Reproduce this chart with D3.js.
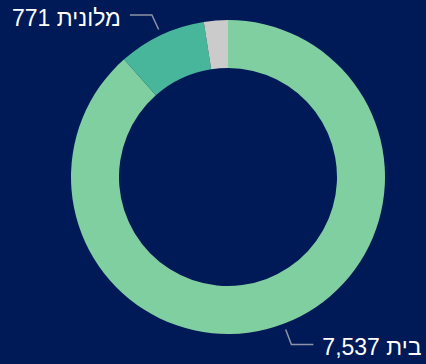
<!DOCTYPE html>
<html>
<head>
<meta charset="utf-8">
<script src="https://cdn.jsdelivr.net/npm/d3@7/dist/d3.min.js"></script>
<style>
  html, body { margin: 0; padding: 0; background: #001a57; }
  svg { display: block; }
  text { font-family: "Liberation Sans", Arial, sans-serif; }
</style>
</head>
<body>
<svg id="chart" width="426" height="364"></svg>
<script>
// Accommodation types and their counts
const categories = ["בית", "מלונית", "אחר"];
const values = [7537, 771, 210];
const colors = ["#7fcfa1", "#48b69b", "#cbcbcb"];
const labelled = [true, true, false];

const W = 426, H = 364;
const cx = 228, cy = 177, outerR = 157, innerR = 109;

const svg = d3.select("#chart");
svg.append("rect").attr("width", W).attr("height", H).attr("fill", "#001a57");

const data = categories.map((c, i) => ({ name: c, value: values[i], color: colors[i], label: labelled[i] }));

const pie = d3.pie().sort(null).value(d => d.value);
const arc = d3.arc().innerRadius(innerR).outerRadius(outerR);
const arcs = pie(data);

const g = svg.append("g").attr("transform", `translate(${cx},${cy})`);

g.selectAll("path.slice")
  .data(arcs)
  .join("path")
  .attr("class", "slice")
  .attr("d", arc)
  .attr("fill", d => d.data.color);

// Leader lines and labels
const startArc = d3.arc().innerRadius(outerR + 6).outerRadius(outerR + 6);
const elbowArc = d3.arc().innerRadius(outerR + 22).outerRadius(outerR + 22);
const fmt = d3.format(",");

arcs.filter(d => d.data.label).forEach(d => {
  const mid = (d.startAngle + d.endAngle) / 2;
  const side = Math.sin(mid) >= 0 ? 1 : -1;
  const p0 = startArc.centroid(d);
  const p1 = elbowArc.centroid(d);
  const p2 = [p1[0] + side * 22, p1[1]];
  g.append("polyline")
    .attr("points", [p0, p1, p2].map(p => p.join(",")).join(" "))
    .attr("fill", "none")
    .attr("stroke", "#8c93a8")
    .attr("stroke-width", 1.5);
  g.append("text")
    .attr("x", p2[0] + side * 9)
    .attr("y", p2[1] + 2.5)
    .attr("dy", "0.35em")
    .attr("direction", "rtl")
    .attr("text-anchor", side > 0 ? "end" : "start")
    .attr("fill", "#ffffff")
    .attr("font-size", 23)
    .text(`${d.data.name} ${fmt(d.data.value)}`);
});
</script>
</body>
</html>
